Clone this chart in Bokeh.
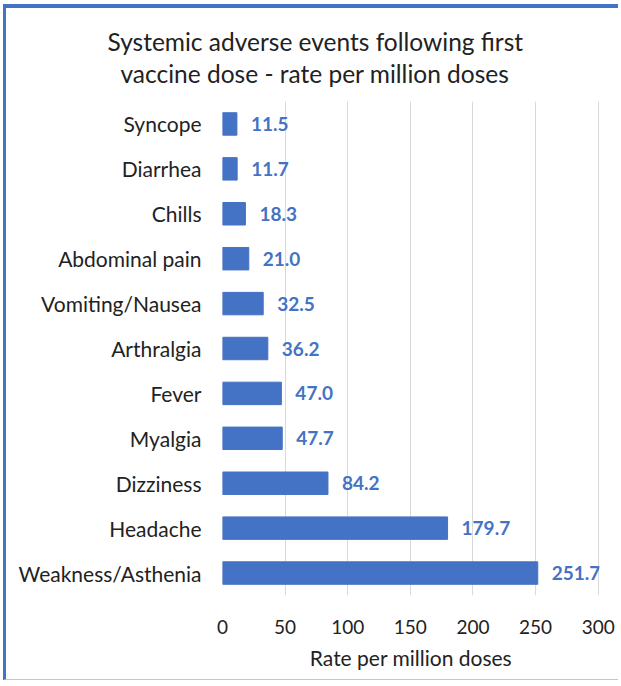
from bokeh.plotting import figure
from bokeh.models import FactorRange, Range1d, Title, FixedTicker, ColumnDataSource
from bokeh.core.properties import value
from bokeh.embed import file_html
from bokeh.resources import INLINE

categories = ["Syncope", "Diarrhea", "Chills", "Abdominal pain", "Vomiting/Nausea",
              "Arthralgia", "Fever", "Myalgia", "Dizziness", "Headache", "Weakness/Asthenia"]
rates = [11.5, 11.7, 18.3, 21.0, 32.5, 36.2, 47.0, 47.7, 84.2, 179.7, 251.7]
x_ticks = [0, 50, 100, 150, 200, 250, 300]
title_lines = ["Systemic adverse events following first",
               "vaccine dose - rate per million doses"]
x_label = "Rate per million doses"

FONT = "Lato"
BLUE = "#4472C4"
TEXT = "#222222"

src = ColumnDataSource(dict(cat=categories, rate=rates, lab=["%.1f" % r for r in rates]))

p = figure(width=615, height=676, output_backend="svg", toolbar_location=None,
           y_range=FactorRange(*categories[::-1]), x_range=Range1d(0, 301),
           min_border_left=216, min_border_right=22, min_border_top=93, min_border_bottom=89,
           background_fill_color="white", border_fill_color="white")
p.styles = {"border-top": "4px solid #4472C4", "border-left": "3px solid #4472C4",
            "border-bottom": "1px solid #b4c7e7", "margin-top": "4px", "margin-left": "3px"}

p.hbar(y="cat", right="rate", left=0, height=0.5, source=src, color=BLUE)
p.text(x="rate", y="cat", text="lab", source=src, x_offset=14, text_baseline="middle",
       text_align="left", text_color=BLUE, text_font=value(FONT), text_font_size="19px",
       text_font_style="bold")

p.outline_line_color = None
p.ygrid.grid_line_color = None
p.xgrid.grid_line_color = "#d9d9d9"
p.xgrid.grid_line_width = 1

p.xaxis.ticker = FixedTicker(ticks=x_ticks)
p.xaxis.axis_line_color = None
p.xaxis.major_tick_line_color = None
p.xaxis.minor_tick_line_color = None
p.xaxis.major_label_standoff = 18
p.xaxis.major_label_text_font = FONT
p.xaxis.major_label_text_font_size = "19px"
p.xaxis.major_label_text_color = TEXT
p.xaxis.axis_label = x_label
p.xaxis.axis_label_text_font = FONT
p.xaxis.axis_label_text_font_size = "21px"
p.xaxis.axis_label_text_font_style = "normal"
p.xaxis.axis_label_text_color = TEXT
p.xaxis.axis_label_standoff = 8

p.yaxis.axis_line_color = None
p.yaxis.major_tick_line_color = None
p.yaxis.minor_tick_line_color = None
p.yaxis.major_label_standoff = 15
p.yaxis.major_label_text_font = FONT
p.yaxis.major_label_text_font_size = "21px"
p.yaxis.major_label_text_color = TEXT

# two title lines stacked above the frame (first added sits nearest the frame)
p.add_layout(Title(text=title_lines[1], align="left", offset=-102, standoff=28,
                   text_font=FONT, text_font_size="24.5px", text_font_style="normal",
                   text_color=TEXT), "above")
p.add_layout(Title(text=title_lines[0], align="left", offset=-115, standoff=-27,
                   text_font=FONT, text_font_size="24.5px", text_font_style="normal",
                   text_color=TEXT), "above")

open("out.html", "w").write(file_html(p, INLINE))
